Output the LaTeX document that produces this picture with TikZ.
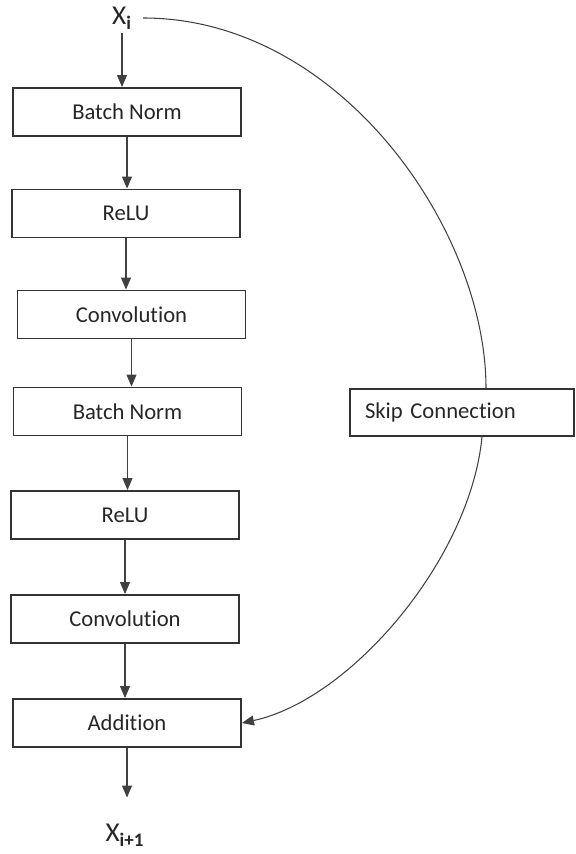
\documentclass[tikz,border=0pt]{standalone}
\usepackage{fontspec}
\setmainfont{Carlito}[Ligatures={NoCommon,NoRare,NoContextual}]
\usetikzlibrary{arrows.meta}
\tikzset{block/.style={rectangle,draw=black!80,line width=1.1pt,minimum width=4.56cm,minimum height=0.96cm,inner sep=0pt,font=\fontsize{12.9}{15}\selectfont,text=black!85}}
\tikzset{edge/.style={-{Triangle[length=2.4mm,width=2mm]},draw=black!75,line width=0.6pt}}
\tikzset{skipline/.style={draw=black!75,line width=0.6pt}}
\tikzset{term/.style={inner sep=2pt,font=\fontsize{15.5}{17}\selectfont,text=black!85}}

\begin{document}
\begin{tikzpicture}[x=0.02cm,y=-0.02cm]
    \useasboundingbox (0,0) rectangle (575,854);
    \node[term] (xi) at (122,18) {X\textsubscript{\textbf{i}}};
    \node[block] (bn1) at (127,112) {Batch Norm};
    \node[block] (relu1) at (126,213.5) {ReLU};
    \node[block] (conv1) at (131.5,314.5) {Convolution};
    \node[block] (bn2) at (127.5,411.5) {Batch Norm};
    \node[block] (relu2) at (125,515) {ReLU};
    \node[block] (conv2) at (125,619) {Convolution};
    \node[block] (add) at (127,723) {Addition};
    \node[term] (xout) at (125,835) {X\textsubscript{\textbf{i+1}}};
    \node[block,minimum width=4.48cm,minimum height=0.94cm,text width=3.88cm,align=left,inner xsep=0.3cm] (skip) at (462,412.5) {Skip Connection};
    \draw[edge] (xi.south) -- (xi.south |- bn1.north);
    \draw[edge] (bn1.south) -- (bn1.south |- relu1.north);
    \draw[edge] (relu1.south) -- (relu1.south |- conv1.north);
    \draw[edge] (conv1.south) -- (conv1.south |- bn2.north);
    \draw[edge] (bn2.south) -- (bn2.south |- relu2.north);
    \draw[edge] (relu2.south) -- (relu2.south |- conv2.north);
    \draw[edge] (conv2.south) -- (conv2.south |- add.north);
    \draw[edge,shorten >=4.5mm] (add.south) -- (add.south |- xout.north);
    \draw[skipline] ([xshift=1.5mm]xi.east) .. controls (340,18) and (486,230) .. ([xshift=0.48cm]skip.north);
    \draw[edge] ([xshift=0.4cm]skip.south) .. controls (470,560) and (350,700) .. (add.east);
\end{tikzpicture}
\end{document}
